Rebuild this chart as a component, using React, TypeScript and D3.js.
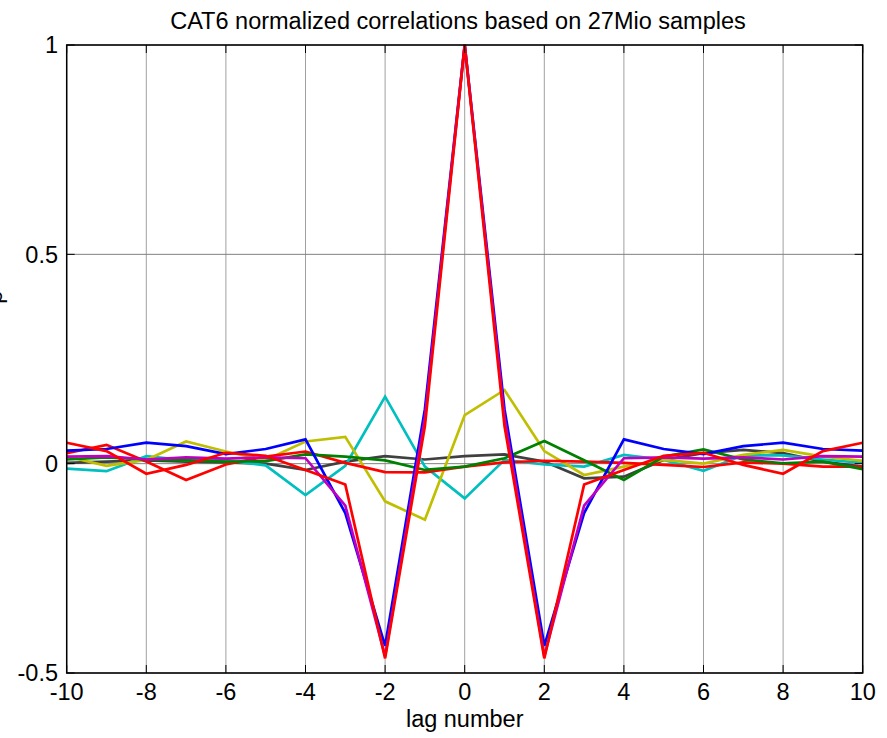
import React from 'react';
import * as d3 from 'd3';

const lags = [-10, -9, -8, -7, -6, -5, -4, -3, -2, -1, 0, 1, 2, 3, 4, 5, 6, 7, 8, 9, 10];
const xTicks = [-10, -8, -6, -4, -2, 0, 2, 4, 6, 8, 10];
const yTicks = [-0.5, 0, 0.5, 1];
const yTickLabels = ['-0.5', '0', '0.5', '1'];

const titleText = 'CAT6 normalized correlations based on 27Mio samples';
const xLabelText = 'lag number';
const yLabelText = 'ρ';

const blueVals = [0.031, 0.035, 0.05, 0.042, 0.023, 0.035, 0.058, -0.118, -0.435, 0.13, 1.0, 0.13, -0.435, -0.118, 0.058, 0.035, 0.023, 0.042, 0.05, 0.035, 0.031];
const magentaVals = [0.017, 0.018, 0.01, 0.015, 0.012, 0.015, 0.013, -0.1, -0.46, 0.11, 1.0, 0.11, -0.46, -0.1, 0.013, 0.015, 0.012, 0.015, 0.01, 0.018, 0.017];
const redAutoVals = [0.05, 0.03, -0.024, -0.003, 0.026, 0.019, -0.015, -0.05, -0.465, 0.09, 1.0, 0.09, -0.465, -0.05, -0.015, 0.019, 0.026, -0.003, -0.024, 0.03, 0.05];
const cyanVals = [-0.012, -0.018, 0.018, 0.008, 0.008, -0.004, -0.075, -0.005, 0.16, -0.007, -0.083, 0.009, -0.002, -0.007, 0.021, 0.009, -0.017, 0.02, 0.02, 0.01, 0.002];
const yellowVals = [0.017, -0.005, 0.009, 0.053, 0.029, 0.009, 0.053, 0.064, -0.09, -0.134, 0.116, 0.176, 0.03, -0.027, -0.007, 0.009, 0.0, 0.021, 0.033, 0.017, 0.007];
const grayVals = [0.002, 0.005, 0.008, 0.005, 0.003, 0.0, -0.015, 0.005, 0.018, 0.01, 0.018, 0.022, 0.005, -0.035, -0.031, 0.009, 0.025, 0.033, 0.025, 0.005, -0.007];
const greenVals = [0.01, 0.015, 0.01, 0.008, 0.005, 0.006, 0.022, 0.017, 0.008, -0.015, -0.007, 0.013, 0.054, 0.008, -0.039, 0.017, 0.034, 0.01, 0.001, 0.005, -0.013];
const redCrossVals = [0.025, 0.045, 0.005, -0.039, -0.002, 0.017, 0.029, 0.002, -0.02, -0.021, -0.007, 0.003, 0.007, 0.005, 0.002, -0.003, -0.008, 0.003, 0.0, -0.007, -0.007];

const series = [
  { name: 'gray', values: grayVals, color: '#404040' },
  { name: 'cyan', values: cyanVals, color: '#00bfbf' },
  { name: 'yellow', values: yellowVals, color: '#bfbf00' },
  { name: 'redCross', values: redCrossVals, color: '#ff0000' },
  { name: 'green', values: greenVals, color: '#008000' },
  { name: 'blue', values: blueVals, color: '#0000ff' },
  { name: 'magenta', values: magentaVals, color: '#bf00bf' },
  { name: 'redAuto', values: redAutoVals, color: '#ff0000' },
];

const W = 887;
const H = 738;
const L = 66.7;
const R = 862.7;
const T = 45;
const B = 673;
const FONT = '"Liberation Sans", Arial, Helvetica, sans-serif';
const FS = 23.5;

export default function App() {
  const x = d3.scaleLinear().domain([-10, 10]).range([L, R]);
  const y = d3.scaleLinear().domain([-0.5, 1]).range([B, T]);
  const line = d3
    .line<number>()
    .x((_, i) => x(lags[i]))
    .y((d) => y(d));
  const tickLen = 8;

  return (
    <svg
      width={W}
      height={H}
      style={{ position: 'absolute', left: 0, top: 0, background: '#fff', display: 'block' }}
      fontFamily={FONT}
    >
      <rect x={0} y={0} width={W} height={H} fill="#fff" />
      {xTicks.map((t) => (
        <line key={'gx' + t} x1={x(t)} x2={x(t)} y1={T} y2={B} stroke="#a0a0a0" strokeWidth={1} />
      ))}
      {yTicks.map((t) => (
        <line key={'gy' + t} x1={L} x2={R} y1={y(t)} y2={y(t)} stroke="#808080" strokeWidth={1} />
      ))}
      {series.map((s) => (
        <path
          key={s.name}
          d={line(s.values) || ''}
          fill="none"
          stroke={s.color}
          strokeWidth={2.7}
          strokeLinejoin="miter"
        />
      ))}
      {xTicks.map((t) => (
        <g key={'tx' + t}>
          <line x1={x(t)} x2={x(t)} y1={B} y2={B - tickLen} stroke="#000" strokeWidth={1} />
          <line x1={x(t)} x2={x(t)} y1={T} y2={T + tickLen} stroke="#000" strokeWidth={1} />
          <text x={x(t)} y={700} textAnchor="middle" fontSize={FS} fill="#000">
            {String(t)}
          </text>
        </g>
      ))}
      {yTicks.map((t, i) => (
        <g key={'ty' + t}>
          <line x1={L} x2={L + tickLen} y1={y(t)} y2={y(t)} stroke="#000" strokeWidth={1} />
          <line x1={R} x2={R - tickLen} y1={y(t)} y2={y(t)} stroke="#000" strokeWidth={1} />
          <text x={58} y={y(t)} dy="0.36em" textAnchor="end" fontSize={FS} fill="#000">
            {yTickLabels[i]}
          </text>
        </g>
      ))}
      <rect x={L} y={T} width={R - L} height={B - T} fill="none" stroke="#000" strokeWidth={1.5} />
      <text x={458} y={29} textAnchor="middle" fontSize={FS} fill="#000">
        {titleText}
      </text>
      <text x={(L + R) / 2} y={727} textAnchor="middle" fontSize={FS} fill="#000">
        {xLabelText}
      </text>
      <text
        transform={`translate(2, 297) rotate(-90)`}
        textAnchor="middle"
        fontSize={FS}
        fill="#000"
      >
        {yLabelText}
      </text>
    </svg>
  );
}
